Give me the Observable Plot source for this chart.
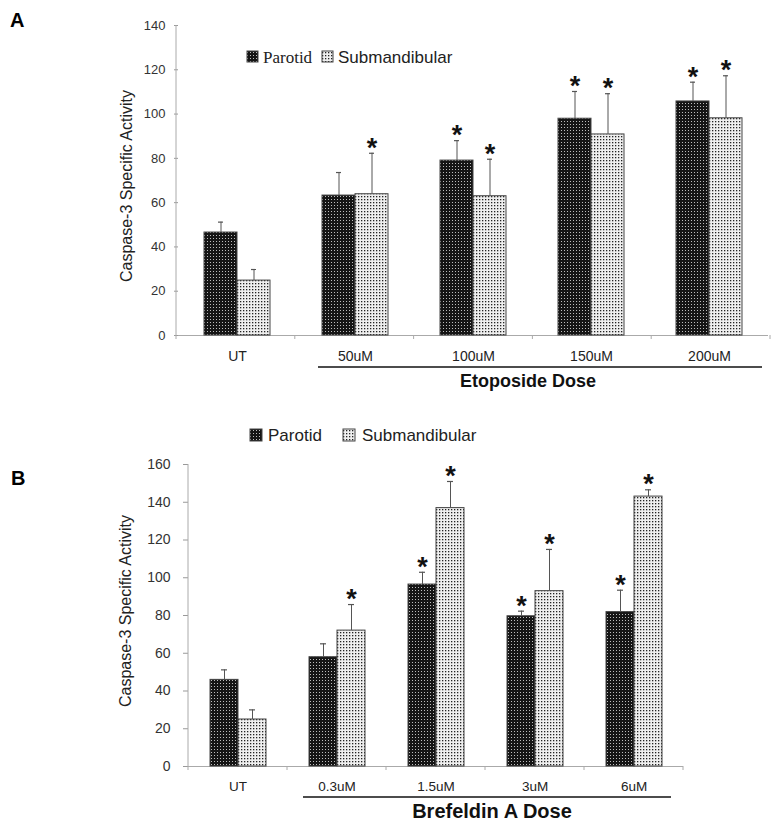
<!DOCTYPE html>
<html><head><meta charset="utf-8">
<script src="https://cdn.jsdelivr.net/npm/d3@7"></script>
<script src="https://cdn.jsdelivr.net/npm/@observablehq/plot@0.6"></script>
<style>
body{margin:0;background:#fff;}
#wrap{position:relative;width:782px;height:829px;font-family:"Liberation Sans",Arial,sans-serif;}
#wrap > div.p{position:absolute;left:0;}
#overlay{position:absolute;left:0;top:0;pointer-events:none;}
</style></head><body>
<svg width="0" height="0" style="position:absolute"><defs>
<pattern id="patP" width="3" height="3" patternUnits="userSpaceOnUse"><rect width="3" height="3" fill="#151515"/><rect x="1" y="1" width="1" height="1" fill="#bdbdbd"/></pattern>
<pattern id="patS" width="3" height="3" patternUnits="userSpaceOnUse"><rect width="3" height="3" fill="#efefef"/><rect x="1" y="1" width="1.3" height="1.3" fill="#222"/></pattern>
</defs></svg>
<div id="wrap">
  <div class="p" id="pa" style="top:0px"></div>
  <div class="p" id="pb" style="top:400px"></div>
  <svg id="overlay" width="782" height="829" font-family="Liberation Sans, Arial, sans-serif">
    <text x="10" y="27" font-size="20" font-weight="bold">A</text>
    <text x="11" y="485" font-size="20" font-weight="bold">B</text>
    <text transform="translate(132,186) rotate(-90)" text-anchor="middle" font-size="16" fill="#222">Caspase-3 Specific Activity</text>
    <text transform="translate(131,611) rotate(-90)" text-anchor="middle" font-size="16" fill="#222">Caspase-3 Specific Activity</text>
    <!-- legend A -->
    <rect x="247" y="51" width="11" height="11" fill="url(#patP)" stroke="#444"/>
    <text x="263" y="63" font-size="17" font-family="Liberation Serif, Times New Roman, serif" fill="#222">Parotid</text>
    <rect x="322" y="51" width="11" height="11" fill="url(#patS)" stroke="#444"/>
    <text x="338" y="63" font-size="17" fill="#222">Submandibular</text>
    <!-- legend B -->
    <rect x="250" y="429" width="12" height="12" fill="url(#patP)" stroke="#444"/>
    <text x="268" y="441" font-size="17" fill="#222">Parotid</text>
    <rect x="343" y="429" width="12" height="12" fill="url(#patS)" stroke="#444"/>
    <text x="362" y="441" font-size="17" fill="#222">Submandibular</text>
    <!-- dose labels -->
    <line x1="318" x2="762" y1="367" y2="367" stroke="#111" stroke-width="1.5"/>
    <text x="528" y="387" text-anchor="middle" font-size="18" font-weight="bold" fill="#111">Etoposide Dose</text>
    <line x1="303" x2="671" y1="797" y2="797" stroke="#111" stroke-width="1.5"/>
    <text x="492" y="818" text-anchor="middle" font-size="20" font-weight="bold" fill="#111">Brefeldin A Dose</text>
  </svg>
</div>
<script>
const series = ["Parotid", "Submandibular"];

// Panel A: Etoposide
const catsA = ["UT", "50uM", "100uM", "150uM", "200uM"];
const parotidA = [46.5, 63.2, 79.0, 97.9, 105.7];
const parotidErrA = [4.7, 10.4, 9.0, 12.3, 8.7];
const parotidSigA = [false, false, true, true, true];
const subA = [24.8, 63.8, 62.9, 90.8, 98.1];
const subErrA = [5.0, 18.5, 16.7, 18.4, 19.2];
const subSigA = [false, true, true, true, true];
const yTicksA = [0, 20, 40, 60, 80, 100, 120, 140];

// Panel B: Brefeldin A
const catsB = ["UT", "0.3uM", "1.5uM", "3uM", "6uM"];
const parotidB = [45.9, 57.9, 96.4, 79.6, 81.8];
const parotidErrB = [5.3, 7.1, 6.5, 2.7, 11.6];
const parotidSigB = [false, false, true, true, true];
const subB = [24.9, 72.0, 136.9, 92.9, 143.0];
const subErrB = [5.1, 13.8, 14.1, 22.1, 3.6];
const subSigB = [false, true, true, true, true];
const yTicksB = [0, 20, 40, 60, 80, 100, 120, 140, 160];

function buildRows(cats, pv, pe, ps, sv, se, ss) {
  const rows = [];
  cats.forEach((c, i) => {
    rows.push({cat: c, series: series[0], value: pv[i], top: pv[i] + pe[i], sig: ps[i]});
    rows.push({cat: c, series: series[1], value: sv[i], top: sv[i] + se[i], sig: ss[i]});
  });
  return rows;
}

function makeChart(rows, cats, o) {
  const chart = Plot.plot({
    width: 782, height: o.height,
    marginLeft: o.ml, marginRight: o.mr, marginTop: o.mt, marginBottom: o.mb,
    style: {fontFamily: "Liberation Sans, Arial, sans-serif", background: "transparent", color: "#222"},
    fx: {domain: cats, padding: 0, label: null, axis: null},
    x: {domain: series, paddingInner: 0, paddingOuter: 0.75, axis: null},
    y: {domain: [0, o.ymax], axis: null},
    marks: [
      Plot.axisY({ticks: o.yticks, tickSize: o.tickSize, tickPadding: o.tickPad, fontSize: o.tickFont, stroke: "#999", fill: "#333", label: null}),
      Plot.axisFx({anchor: "bottom", tickSize: 0, tickPadding: o.fxPad, fontSize: o.fxFont, fill: "#222", label: null}),
      Plot.ruleY([0], {stroke: "#aaa"}),
      Plot.barY(rows.filter(d => d.series === series[0]), {fx: "cat", x: "series", y: "value", fill: "url(#patP)", stroke: "#444", strokeWidth: 1}),
      Plot.barY(rows.filter(d => d.series === series[1]), {fx: "cat", x: "series", y: "value", fill: "url(#patS)", stroke: "#444", strokeWidth: 1}),
      Plot.ruleX(rows, {fx: "cat", x: "series", y1: "value", y2: "top", stroke: "#555", strokeWidth: 1}),
      Plot.tickY(rows, {fx: "cat", x: "series", y: "top", stroke: "#555", strokeWidth: 1.2, insetLeft: o.cap, insetRight: o.cap}),
      Plot.text(rows.filter(d => d.sig), {fx: "cat", x: "series", y: "top", text: () => "*", fontSize: 27, fontWeight: "bold", lineAnchor: "middle", dy: -5, fill: "#111"})
    ]
  });
  // y-axis line and category boundary ticks from the chart's own scales
  const fx = chart.scale("fx"), y = chart.scale("y");
  const band = d3.scaleBand().domain(fx.domain).range(fx.range)
    .paddingInner(fx.paddingInner || 0).paddingOuter(fx.paddingOuter || 0).align(fx.align ?? 0.5);
  const y0 = y.range[0], y1 = y.range[1];
  const bounds = fx.domain.map(c => band(c)).concat([band(fx.domain[fx.domain.length - 1]) + band.bandwidth()]);
  const g = d3.select(chart).append("g").attr("stroke", "#aaa").attr("stroke-width", 1);
  g.append("line").attr("x1", bounds[0]).attr("x2", bounds[0]).attr("y1", y0).attr("y2", y1);
  bounds.forEach(b => g.append("line").attr("x1", b).attr("x2", b).attr("y1", y0).attr("y2", y0 + 4));
  return chart;
}

const rowsA = buildRows(catsA, parotidA, parotidErrA, parotidSigA, subA, subErrA, subSigA);
const rowsB = buildRows(catsB, parotidB, parotidErrB, parotidSigB, subB, subErrB, subSigB);

document.getElementById("pa").appendChild(makeChart(rowsA, catsA, {
  height: 400, ml: 176, mr: 12, mt: 25, mb: 65, ymax: 140, yticks: yTicksA,
  tickSize: 4, tickPad: 9, tickFont: 13, fxPad: 16, fxFont: 14, cap: 14
}));
document.getElementById("pb").appendChild(makeChart(rowsB, catsB, {
  height: 429, ml: 188, mr: 99, mt: 64, mb: 63, ymax: 160, yticks: yTicksB,
  tickSize: 5, tickPad: 13, tickFont: 14, fxPad: 15, fxFont: 13.5, cap: 11
}));
</script>
</body></html>
